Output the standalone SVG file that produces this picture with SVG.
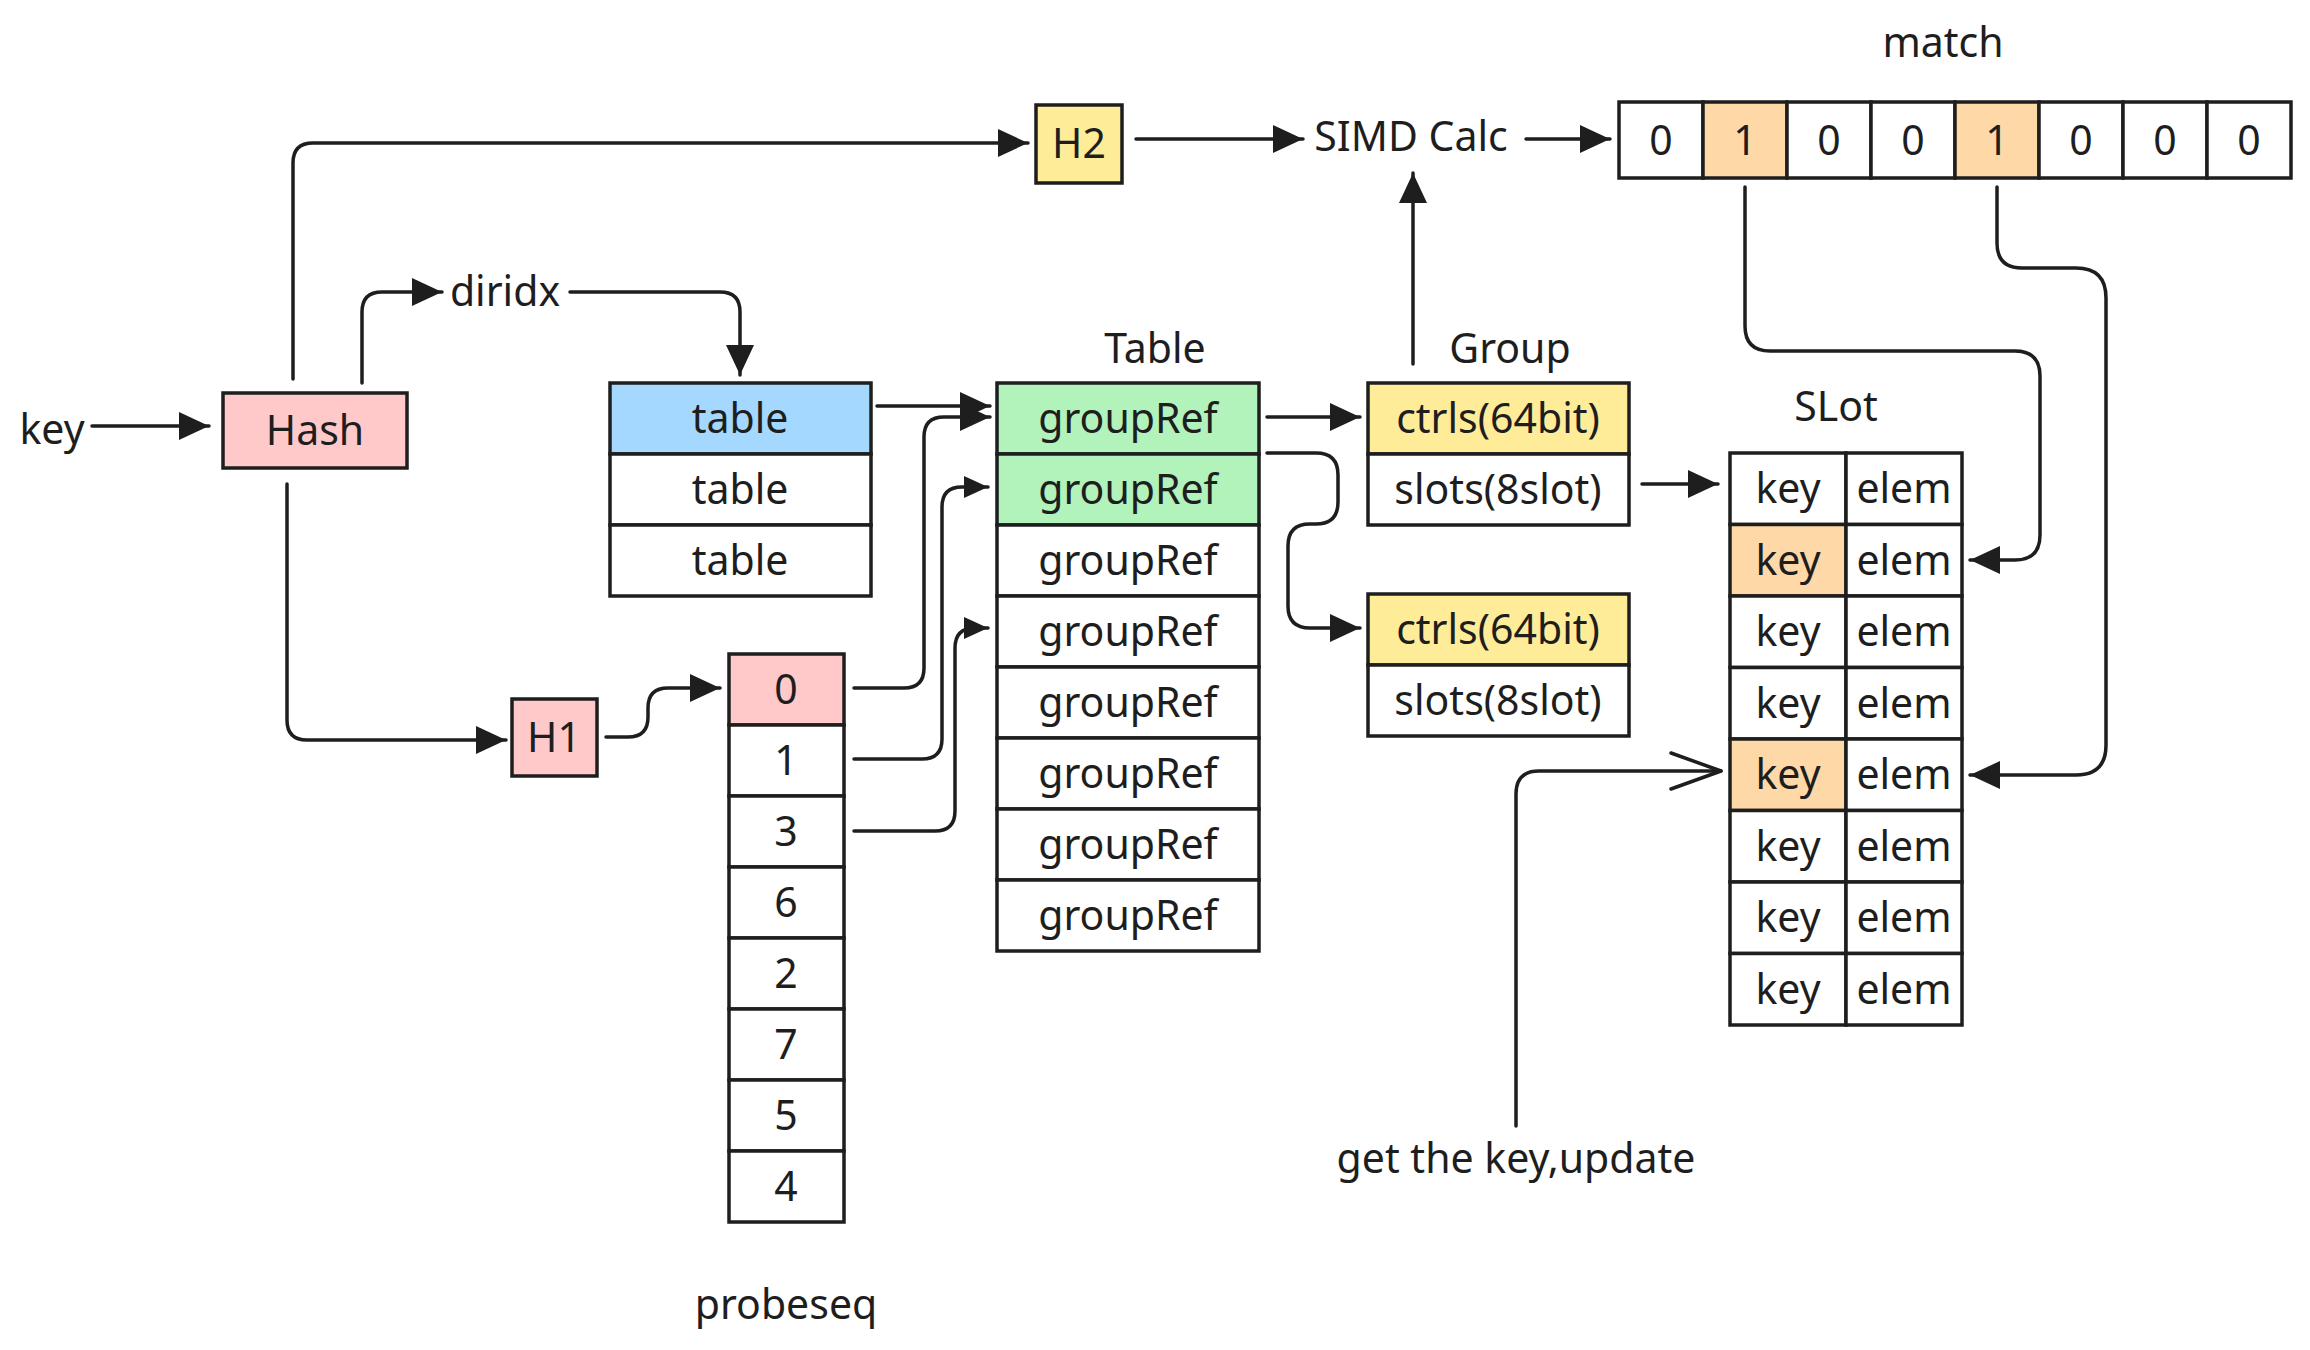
<svg xmlns="http://www.w3.org/2000/svg" width="2310" height="1350" viewBox="0 0 2310 1350">
<style>
rect{stroke:#1e1e1e;stroke-width:3.5}
.w{fill:#ffffff}.pk{fill:#ffc9c9}.bl{fill:#a5d8ff}.gr{fill:#b2f2bb}.ye{fill:#ffec99}.or{fill:#ffd8a8}
text{font-family:"Noto Sans","DejaVu Sans",sans-serif;font-size:41px;fill:#1e1e1e;text-anchor:middle}
.c path,.c line{fill:none;stroke:#1e1e1e;stroke-width:3.5;stroke-linecap:round}
</style>
<defs>
<marker id="a" markerUnits="userSpaceOnUse" markerWidth="32" markerHeight="30" refX="30" refY="14" orient="auto" overflow="visible"><path d="M0,0 L30,14 L0,28 z" fill="#1e1e1e"/></marker>
<marker id="s" markerUnits="userSpaceOnUse" markerWidth="26" markerHeight="24" refX="24" refY="11" orient="auto" overflow="visible"><path d="M0,0 L24,11 L0,22 z" fill="#1e1e1e"/></marker>
<marker id="o" markerUnits="userSpaceOnUse" markerWidth="54" markerHeight="40" refX="50" refY="18" orient="auto" overflow="visible"><path d="M0,0 L50,18 L0,36" fill="none" stroke="#1e1e1e" stroke-width="3.5" stroke-linecap="round" stroke-linejoin="round"/></marker>
</defs>
<rect x="0" y="0" width="2310" height="1350" fill="#ffffff" style="stroke:none"/>

<g id="labels">
<text x="52" y="444">key</text>
<text x="505" y="306">diridx</text>
<text x="1411" y="151">SIMD Calc</text>
<text x="1943" y="57">match</text>
<text x="1155" y="363">Table</text>
<text x="1510" y="363">Group</text>
<text x="1836" y="421">SLot</text>
<text x="786" y="1319">probeseq</text>
<text x="1516" y="1173">get the key,update</text>
</g>

<g id="hash"><rect class="pk" x="223" y="393" width="184" height="75"/><text x="315" y="445">Hash</text></g>
<g id="h2"><rect class="ye" x="1036" y="105" width="86" height="78"/><text x="1079" y="158">H2</text></g>
<g id="h1"><rect class="pk" x="512" y="699" width="85" height="77"/><text x="554" y="752">H1</text></g>

<g id="dirtable">
<rect class="bl" x="610" y="383" width="261" height="71"/><text x="740" y="433">table</text>
<rect class="w" x="610" y="454" width="261" height="71"/><text x="740" y="504">table</text>
<rect class="w" x="610" y="525" width="261" height="71"/><text x="740" y="575">table</text>
</g>

<g id="groupref">
<rect class="gr" x="997" y="383" width="262" height="71"/><text x="1128" y="433">groupRef</text>
<rect class="gr" x="997" y="454" width="262" height="71"/><text x="1128" y="504">groupRef</text>
<rect class="w" x="997" y="525" width="262" height="71"/><text x="1128" y="575">groupRef</text>
<rect class="w" x="997" y="596" width="262" height="71"/><text x="1128" y="646">groupRef</text>
<rect class="w" x="997" y="667" width="262" height="71"/><text x="1128" y="717">groupRef</text>
<rect class="w" x="997" y="738" width="262" height="71"/><text x="1128" y="788">groupRef</text>
<rect class="w" x="997" y="809" width="262" height="71"/><text x="1128" y="859">groupRef</text>
<rect class="w" x="997" y="880" width="262" height="71"/><text x="1128" y="930">groupRef</text>
</g>

<g id="group1">
<rect class="ye" x="1368" y="383" width="261" height="71"/><text x="1498" y="433">ctrls(64bit)</text>
<rect class="w" x="1368" y="454" width="261" height="71"/><text x="1498" y="504">slots(8slot)</text>
</g>
<g id="group2">
<rect class="ye" x="1368" y="594" width="261" height="71"/><text x="1498" y="644">ctrls(64bit)</text>
<rect class="w" x="1368" y="665" width="261" height="71"/><text x="1498" y="715">slots(8slot)</text>
</g>

<g id="match">
<rect class="w" x="1619" y="102" width="84" height="76"/><text x="1661" y="155">0</text>
<rect class="or" x="1703" y="102" width="84" height="76"/><text x="1745" y="155">1</text>
<rect class="w" x="1787" y="102" width="84" height="76"/><text x="1829" y="155">0</text>
<rect class="w" x="1871" y="102" width="84" height="76"/><text x="1913" y="155">0</text>
<rect class="or" x="1955" y="102" width="84" height="76"/><text x="1997" y="155">1</text>
<rect class="w" x="2039" y="102" width="84" height="76"/><text x="2081" y="155">0</text>
<rect class="w" x="2123" y="102" width="84" height="76"/><text x="2165" y="155">0</text>
<rect class="w" x="2207" y="102" width="84" height="76"/><text x="2249" y="155">0</text>
</g>

<g id="slot">
<rect class="w" x="1730" y="453" width="116" height="71.5"/><text x="1788" y="503">key</text><rect class="w" x="1846" y="453" width="116" height="71.5"/><text x="1904" y="503">elem</text>
<rect class="or" x="1730" y="524.5" width="116" height="71.5"/><text x="1788" y="575">key</text><rect class="w" x="1846" y="524.5" width="116" height="71.5"/><text x="1904" y="575">elem</text>
<rect class="w" x="1730" y="596" width="116" height="71.5"/><text x="1788" y="646">key</text><rect class="w" x="1846" y="596" width="116" height="71.5"/><text x="1904" y="646">elem</text>
<rect class="w" x="1730" y="667.5" width="116" height="71.5"/><text x="1788" y="718">key</text><rect class="w" x="1846" y="667.5" width="116" height="71.5"/><text x="1904" y="718">elem</text>
<rect class="or" x="1730" y="739" width="116" height="71.5"/><text x="1788" y="789">key</text><rect class="w" x="1846" y="739" width="116" height="71.5"/><text x="1904" y="789">elem</text>
<rect class="w" x="1730" y="810.5" width="116" height="71.5"/><text x="1788" y="861">key</text><rect class="w" x="1846" y="810.5" width="116" height="71.5"/><text x="1904" y="861">elem</text>
<rect class="w" x="1730" y="882" width="116" height="71.5"/><text x="1788" y="932">key</text><rect class="w" x="1846" y="882" width="116" height="71.5"/><text x="1904" y="932">elem</text>
<rect class="w" x="1730" y="953.5" width="116" height="71.5"/><text x="1788" y="1004">key</text><rect class="w" x="1846" y="953.5" width="116" height="71.5"/><text x="1904" y="1004">elem</text>
</g>

<g id="probeseq">
<rect class="pk" x="729" y="654" width="115" height="71"/><text x="786" y="704">0</text>
<rect class="w" x="729" y="725" width="115" height="71"/><text x="786" y="775">1</text>
<rect class="w" x="729" y="796" width="115" height="71"/><text x="786" y="846">3</text>
<rect class="w" x="729" y="867" width="115" height="71"/><text x="786" y="917">6</text>
<rect class="w" x="729" y="938" width="115" height="71"/><text x="786" y="988">2</text>
<rect class="w" x="729" y="1009" width="115" height="71"/><text x="786" y="1059">7</text>
<rect class="w" x="729" y="1080" width="115" height="71"/><text x="786" y="1130">5</text>
<rect class="w" x="729" y="1151" width="115" height="71"/><text x="786" y="1201">4</text>
</g>

<g id="connectors" class="c">
<line x1="92" y1="426" x2="209" y2="426" marker-end="url(#a)"/>
<path d="M293,379 V163 Q293,143 313,143 H1028" marker-end="url(#a)"/>
<path d="M362,383 V312 Q362,292 382,292 H442" marker-end="url(#a)"/>
<path d="M570,292 H720 Q740,292 740,312 V375" marker-end="url(#a)"/>
<path d="M287,484 V720 Q287,740 307,740 H506" marker-end="url(#a)"/>
<line x1="1136" y1="139" x2="1303" y2="139" marker-end="url(#a)"/>
<line x1="1526" y1="139" x2="1610" y2="139" marker-end="url(#a)"/>
<line x1="1413" y1="364" x2="1413" y2="173" marker-end="url(#a)"/>
<line x1="877" y1="406" x2="990" y2="406" marker-end="url(#a)"/>
<path d="M606,737 H628 Q648,737 648,717 V708 Q648,688 668,688 H720" marker-end="url(#a)"/>
<path d="M854,688 H904 Q924,688 924,668 V437 Q924,417 944,417 H990" marker-end="url(#a)"/>
<path d="M854,759 H922 Q942,759 942,739 V507 Q942,487 962,487 H988" marker-end="url(#s)"/>
<path d="M854,831 H935 Q955,831 955,811 V648 Q955,628 975,628 H988" marker-end="url(#s)"/>
<line x1="1267" y1="417" x2="1360" y2="417" marker-end="url(#a)"/>
<path d="M1267,453 H1316 Q1338,453 1338,475 V502 Q1338,524 1316,524 H1310 Q1288,524 1288,546 V606 Q1288,628 1310,628 H1360" marker-end="url(#a)"/>
<line x1="1642" y1="484" x2="1718" y2="484" marker-end="url(#a)"/>
<path d="M1745,187 V326 Q1745,351 1770,351 H2015 Q2040,351 2040,376 V535 Q2040,560 2015,560 H1970" marker-end="url(#a)"/>
<path d="M1997,187 V243 Q1997,268 2022,268 H2076 Q2106,268 2106,298 V745 Q2106,775 2076,775 H1970" marker-end="url(#a)"/>
<path d="M1516,1126 V794 Q1516,771 1539,771 H1721" marker-end="url(#o)"/>
</g>
</svg>
